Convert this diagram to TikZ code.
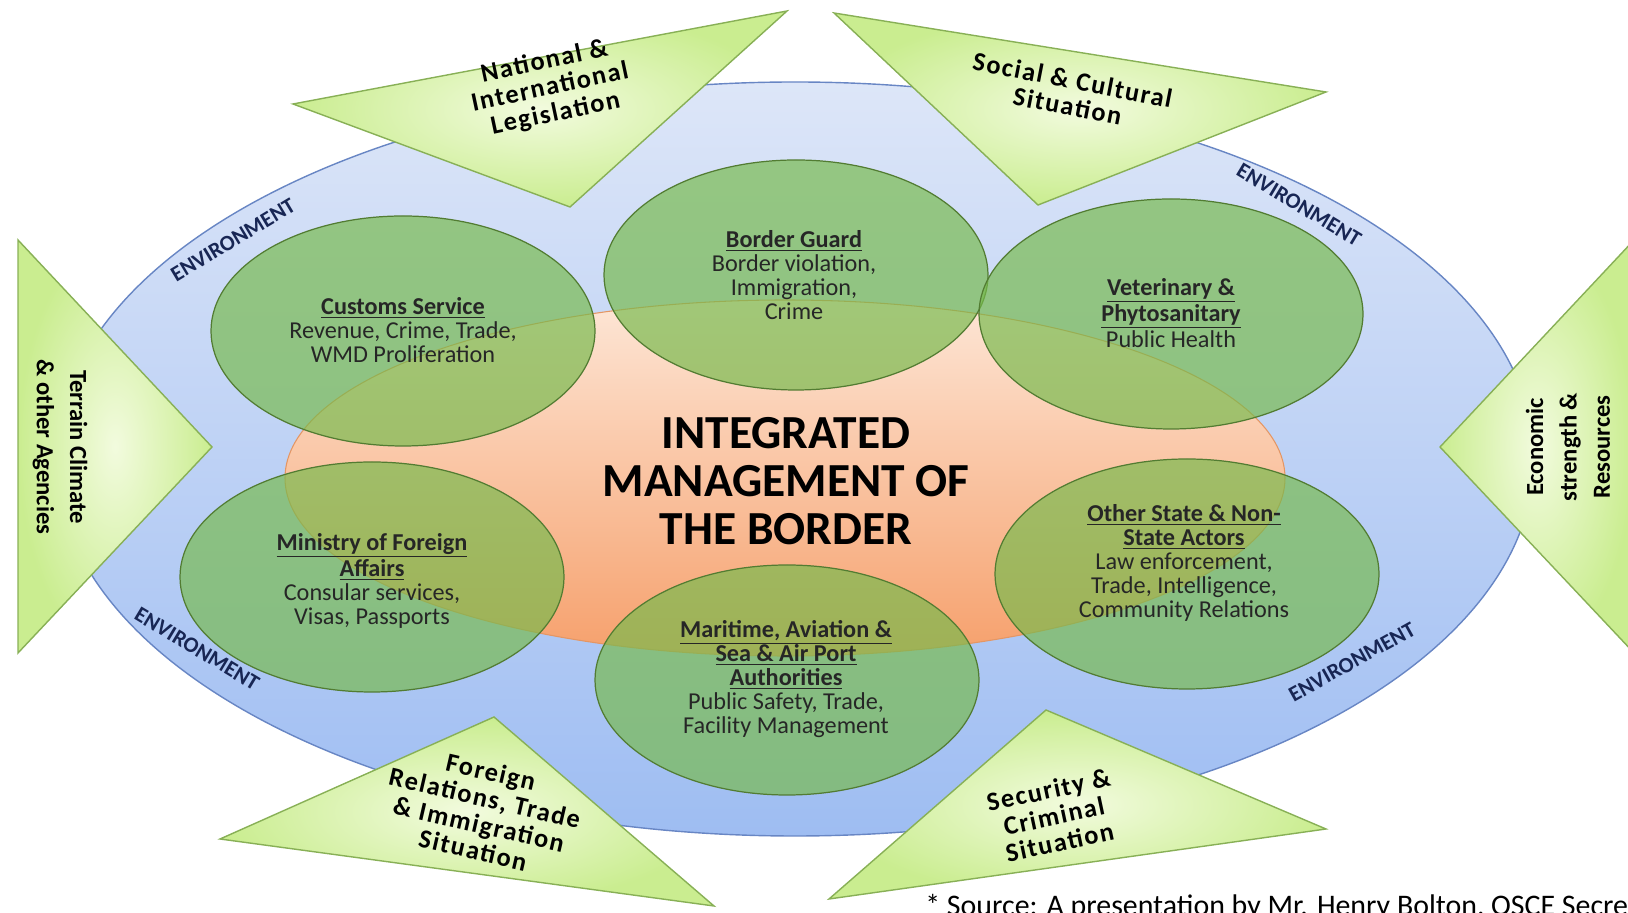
\documentclass[tikz,border=0pt]{standalone}
\usepackage{fontspec}
\setmainfont{Carlito}
\newfontfamily\causefont[LetterSpace=6]{Carlito}
\usepackage{tikz}

\definecolor{ringtop}{RGB}{221,230,248}
\definecolor{ringbot}{RGB}{158,189,242}
\definecolor{ringedge}{RGB}{104,134,196}
\definecolor{coretop}{RGB}{253,230,214}
\definecolor{corebot}{RGB}{246,160,108}
\definecolor{coreedge}{RGB}{228,150,100}
\definecolor{agency}{RGB}{118,186,76}
\definecolor{agencyedge}{RGB}{82,124,50}
\definecolor{factorlight}{RGB}{242,251,222}
\definecolor{factordark}{RGB}{202,237,144}
\definecolor{factoredge}{RGB}{136,176,86}
\definecolor{envtext}{RGB}{24,38,84}

\newcommand{\agencyhead}[1]{\textbf{\underline{#1}}}

\begin{document}
\begin{tikzpicture}[x=0.02cm, y=0.02cm,
	agency/.style={fill=agency, fill opacity=0.68, draw=agencyedge, line width=0.7pt},
	factor/.style={draw=factoredge, line width=0.8pt, inner color=factorlight, outer color=factordark},
	env/.style={font=\fontsize{12.5}{12.5}\selectfont\bfseries, text=envtext, inner sep=0pt},
	agencytext/.style={align=center, font=\fontsize{13.8}{13.7}\selectfont, text=black!85, inner sep=0pt},
	cause/.style={align=center, font=\fontsize{15}{15.2}\causefont\bfseries, inner sep=0pt}]
			\useasboundingbox (0,0) rectangle (1628,912);
			\clip (0,0) rectangle (1628,912);
			%%
			\path[draw=ringedge, line width=0.8pt, top color=ringtop, bottom color=ringbot] (795,453) ellipse [x radius=739, y radius=377];
			\path[draw=coreedge, line width=0.6pt, top color=coretop, bottom color=corebot] (785,434) ellipse [x radius=500, y radius=178];
			%%
			\node[env, rotate=31] (envnw) at (233,672) {ENVIRONMENT};
			\node[env, rotate=-31] (envne) at (1299,707) {ENVIRONMENT};
			\node[env, rotate=-31] (envsw) at (197,263) {ENVIRONMENT};
			\node[env, rotate=29] (envse) at (1352,250) {ENVIRONMENT};
			%%
			\draw[factor] (293,808) -- (787,901) -- (570,705) -- cycle;
			\draw[factor] (834,899) -- (1326,820) -- (1038,707) -- cycle;
			\draw[factor] (494,195) -- (220,73) -- (714,6) -- cycle;
			\draw[factor] (1046,202) -- (1326,83) -- (829,13) -- cycle;
			\draw[factor] (18,672) -- (212,465) -- (18,259) -- cycle;
			\draw[factor] (1634,672) -- (1440,465) -- (1634,259) -- cycle;
			%%
			\foreach \c in {(403,581),(796,637),(1171,598),(372,335),(787,232),(1187,338)}
				\path[agency] \c ellipse [x radius=192, y radius=115];
			%%
			\node[align=center, font=\fontsize{27}{27.5}\selectfont\bfseries, inner sep=0pt] (ibm) at (786,431) {INTEGRATED\\MANAGEMENT OF\\THE BORDER};
			%%
			\node[agencytext] (customs) at (403,582) {\agencyhead{Customs Service}\\Revenue, Crime, Trade,\\WMD Proliferation};
			\node[agencytext] (guard) at (794,637) {\agencyhead{Border Guard}\\Border violation,\\Immigration,\\Crime};
			\node[agencytext] (vet) at (1171,599) {\agencyhead{Veterinary \&}\\\agencyhead{Phytosanitary}\\Public Health};
			\node[agencytext] (ministry) at (372,331) {\agencyhead{Ministry of Foreign}\\\agencyhead{Affairs}\\Consular services,\\Visas, Passports};
			\node[agencytext] (maritime) at (786,233) {\agencyhead{Maritime, Aviation \&}\\\agencyhead{Sea \& Air Port}\\\agencyhead{Authorities}\\Public Safety, Trade,\\Facility Management};
			\node[agencytext] (actors) at (1184,349) {\agencyhead{Other State \& Non-}\\\agencyhead{State Actors}\\Law enforcement,\\Trade, Intelligence,\\Community Relations};
			%%
			\node[cause, rotate=12] (legislation) at (550,824) {National \&\\International\\Legislation};
			\node[cause, rotate=-11] (social) at (1070,819) {Social \& Cultural\\Situation};
			\node[cause, rotate=-13] (foreign) at (482,101) {Foreign\\Relations, Trade\\\& Immigration\\Situation};
			\node[cause, rotate=12] (security) at (1054,96) {Security \&\\Criminal\\Situation};
			\node[cause, rotate=-90, font=\fontsize{14}{19}\selectfont\bfseries] (terrain) at (60,465) {Terrain Climate\\\& other Agencies};
			\node[cause, rotate=90, font=\fontsize{14}{19}\selectfont\bfseries] (economic) at (1568,465) {Economic\\strength \&\\Resources};
			%%
			\node[anchor=base west, font=\fontsize{17}{17}\selectfont, inner sep=0pt] (source) at (925,-3) {* Source: A presentation by Mr. Henry Bolton, OSCE Secret};
		\end{tikzpicture}
\end{document}
